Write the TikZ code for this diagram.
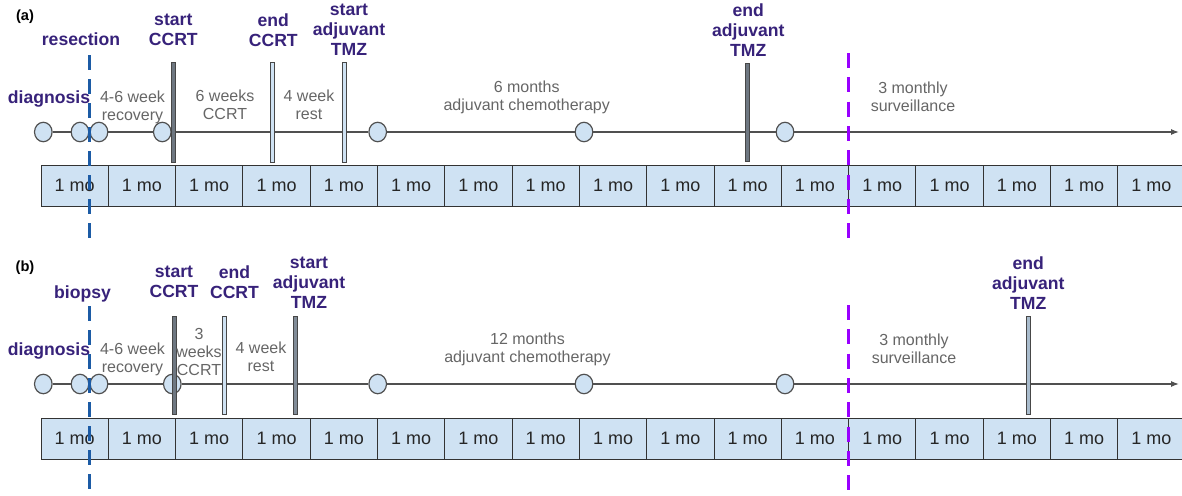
\documentclass[tikz,border=0pt]{standalone}
\usepackage{fontspec}
\setmainfont{Liberation Sans}
\usetikzlibrary{arrows.meta,shapes.geometric}
\definecolor{lblue}{HTML}{CFE2F3}
\definecolor{purptext}{HTML}{37227A}
\definecolor{graytext}{HTML}{666666}
\definecolor{bluedash}{HTML}{1C5BA5}
\definecolor{purpdash}{HTML}{9900FF}
\definecolor{slate}{HTML}{6E7781}
\definecolor{midbar}{HTML}{A9BCCD}
\definecolor{tline}{HTML}{505050}
\definecolor{boxline}{HTML}{333333}
\tikzset{
  mobox/.style={draw=boxline, line width=0.75pt, fill=lblue, inner sep=0pt,
    minimum width=50.475pt, minimum height=30.75pt, text=black!85,
    font=\fontsize{13.5}{16}\selectfont},
  evt/.style={ellipse, draw=tline, line width=0.9pt, fill=lblue, inner sep=0pt,
    minimum width=13.2pt, minimum height=14.6pt},
  tl/.style={draw=tline, line width=0.9pt},
  bar/.style={rectangle, draw=boxline!90, line width=0.6pt, inner sep=0pt, minimum width=3pt},
  lab/.style={text=purptext, align=center, inner sep=0pt,
    font=\fontsize{13.2}{15}\selectfont\bfseries},
  note/.style={text=graytext, align=center, inner sep=0pt,
    font=\fontsize{12}{13.5}\selectfont},
  panel/.style={inner sep=0pt, font=\fontsize{11}{13}\selectfont\bfseries},
  bdash/.style={draw=bluedash, line width=2.25pt, dash pattern=on 11.25pt off 6.75pt},
  pdash/.style={draw=purpdash, line width=2.25pt, dash pattern=on 11.25pt off 7pt},
}
\begin{document}
\begin{tikzpicture}[x=0.75pt,y=-0.75pt]
\useasboundingbox (0,0) rectangle (1182,496);
\fill[white] (0,0) rectangle (1182,496);

% ---------- month boxes ----------
\foreach \i in {0,...,16}{
  \node[mobox] (ma\i) at ({41+67.3*\i+33.65},185.7) {1 mo};
  \node[mobox] (mb\i) at ({41+67.3*\i+33.65},438.7) {1 mo};
}

% ---------- panel (a) ----------
\node[panel] (pa) at (25,17) {(a)};
\foreach \n/\x in {1/43.3,2/80,3/99,4/162.3,5/377.7,6/584,7/785}{
  \node[evt] (ca\n) at (\x,132) {};
}
\coordinate (aend) at (1179,132);
\draw[tl] (ca1) -- (ca2);
\draw[tl] (ca2) -- (ca3);
\draw[tl] (ca3) -- (ca4);
\draw[tl] (ca4) -- (ca5);
\draw[tl] (ca5) -- (ca6);
\draw[tl] (ca6) -- (ca7);
\draw[tl,-{Latex[length=6pt,width=4.5pt]}] (ca7) -- (aend);

\node[bar, fill=slate, minimum height=75pt] (ba1) at (173.7,112) {};
\node[bar, fill=lblue, minimum height=75pt] (ba2) at (272.7,112) {};
\node[bar, fill=lblue, minimum height=75pt] (ba3) at (344,112) {};
\node[bar, fill=slate, minimum height=74pt] (ba4) at (747.8,112.5) {};

\node[lab] (resection) at (81,39) {resection};
\node[lab] (sccrta) at (173.3,30) {start\\CCRT};
\node[lab] (eccrta) at (273.3,30) {end\\CCRT};
\node[lab] (sadja) at (349,30) {start\\adjuvant\\TMZ};
\node[lab] (eadja) at (748.3,30.5) {end\\adjuvant\\TMZ};
\node[lab] (diaga) at (49,98.5) {diagnosis};

\node[note] (reca) at (132.5,107) {4-6 week\\recovery};
\node[note] (ccrta) at (225,105) {6 weeks\\CCRT};
\node[note] (resta) at (309,105) {4 week\\rest};
\node[note] (chemoa) at (526.7,97.5) {6 months\\adjuvant chemotherapy};
\node[note] (surva) at (913,96.5) {3 monthly\\surveillance};

\coordinate (ra1) at (89.5,55);
\coordinate (ra2) at (89.5,239);
\draw[bdash] (ra1) -- (ra2);
\coordinate (sa1) at (848.3,53);
\coordinate (sa2) at (848.3,243);
\draw[pdash] (sa1) -- (sa2);

% ---------- panel (b) ----------
\node[panel] (pb) at (25,268) {(b)};
\foreach \n/\x in {1/43.3,2/80,3/99,4/172.3,5/377.7,6/584,7/785}{
  \node[evt] (cb\n) at (\x,384) {};
}
\coordinate (bend) at (1179,384);
\draw[tl] (cb1) -- (cb2);
\draw[tl] (cb2) -- (cb3);
\draw[tl] (cb3) -- (cb4);
\draw[tl] (cb4) -- (cb5);
\draw[tl] (cb5) -- (cb6);
\draw[tl] (cb6) -- (cb7);
\draw[tl,-{Latex[length=6pt,width=4.5pt]}] (cb7) -- (bend);

\node[bar, fill=slate, minimum height=73.5pt] (bb1) at (174,365) {};
\node[bar, fill=lblue, minimum height=73.5pt] (bb2) at (224.7,365) {};
\node[bar, fill=slate!80!lblue, minimum height=73.5pt] (bb3) at (295.3,365) {};
\node[bar, fill=midbar, minimum height=73.5pt] (bb4) at (1028,365) {};

\node[lab] (biopsy) at (82.5,293.5) {biopsy};
\node[lab] (sccrtb) at (174,282) {start\\CCRT};
\node[lab] (eccrtb) at (234.5,282) {end\\CCRT};
\node[lab] (sadjb) at (309,282.5) {start\\adjuvant\\TMZ};
\node[lab] (eadjb) at (1028.3,283) {end\\adjuvant\\TMZ};
\node[lab] (diagb) at (49,350.5) {diagnosis};

\node[note] (recb) at (132.5,359) {4-6 week\\recovery};
\node[note] (ccrtb) at (199,351.5) {3\\weeks\\CCRT};
\node[note] (restb) at (261,357) {4 week\\rest};
\node[note] (chemob) at (527.5,349.5) {12 months\\adjuvant chemotherapy};
\node[note] (survb) at (914,349) {3 monthly\\surveillance};

\coordinate (rb1) at (89.5,306);
\coordinate (rb2) at (89.5,492);
\draw[bdash] (rb1) -- (rb2);
\coordinate (sb1) at (848.3,305);
\coordinate (sb2) at (848.3,497);
\draw[pdash] (sb1) -- (sb2);
\end{tikzpicture}
\end{document}
